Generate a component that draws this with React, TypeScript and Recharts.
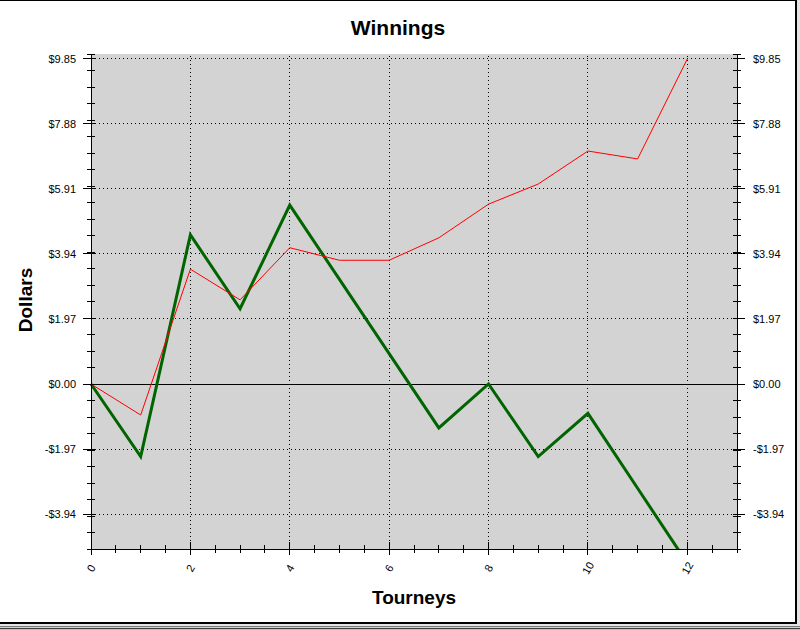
import { CartesianGrid, Line, LineChart, ReferenceLine, XAxis, YAxis } from "recharts";

const tourneys = [0, 1, 2, 3, 4, 5, 6, 7, 8, 9, 10, 11, 12];
const redWinnings = [0, -0.94, 3.48, 2.55, 4.13, 3.75, 3.75, 4.43, 5.45, 6.06, 7.06, 6.82, 9.85];
const greenWinnings = [0, -2.2, 4.52, 2.28, 5.42, 3.17, 0.92, -1.33, 0, -2.2, -0.89, -3.16, -5.43];

const yMajorTicks = [-3.94, -1.97, 0, 1.97, 3.94, 5.91, 7.88, 9.85];
const yTickLabels = ["-$3.94", "-$1.97", "$0.00", "$1.97", "$3.94", "$5.91", "$7.88", "$9.85"];
const yMinorTicks = [
  -5, -4.5, -4, -3.5, -3, -2.5, -2, -1.5, -1, -0.5, 0, 0.5, 1, 1.5, 2, 2.5, 3, 3.5, 4, 4.5, 5,
  5.5, 6, 6.5, 7, 7.5, 8, 8.5, 9, 9.5, 10
];
const xMajorTicks = [0, 2, 4, 6, 8, 10, 12];
const xTickLabels = ["0", "2", "4", "6", "8", "10", "12"];
const xMinorTicks = [
  0, 0.5, 1, 1.5, 2, 2.5, 3, 3.5, 4, 4.5, 5, 5.5, 6, 6.5, 7, 7.5, 8, 8.5, 9, 9.5, 10, 10.5, 11,
  11.5, 12, 12.5, 13
];

const yAllTicks = [...yMinorTicks, ...yMajorTicks.filter((v) => !yMinorTicks.includes(v))].sort(
  (a, b) => a - b
);

const rows = tourneys.map((t, i) => ({ t, red: redWinnings[i], green: greenWinnings[i] }));

const FONT = "'Liberation Sans', Arial, sans-serif";

function BottomTick({ x, y, payload }: any) {
  const idx = xMajorTicks.indexOf(payload.value);
  const major = idx >= 0;
  return (
    <g>
      <line
        x1={x}
        x2={x}
        y1={major ? y - 7 : y - 4}
        y2={major ? y + 6 : y + 4}
        stroke="#000"
        shapeRendering="crispEdges"
      />
      {major && (
        <text
          x={x}
          y={y + 19}
          transform={`rotate(-60 ${x} ${y + 19})`}
          textAnchor="middle"
          dominantBaseline="central"
          fontSize={11}
          fontFamily={FONT}
          fill="#000"
        >
          {xTickLabels[idx]}
        </text>
      )}
    </g>
  );
}

function TopTick({ x, y }: any) {
  return <line x1={x} x2={x} y1={y} y2={y + 5} stroke="#000" shapeRendering="crispEdges" />;
}

function LeftTick({ x, y, payload }: any) {
  const idx = yMajorTicks.indexOf(payload.value);
  const major = idx >= 0;
  return (
    <g>
      <line x1={major ? x - 8 : x - 4} x2={x + 4} y1={y} y2={y} stroke="#000" shapeRendering="crispEdges" />
      {major && (
        <text x={x - 15} y={y} dy={4} textAnchor="end" fontSize={11} fontFamily={FONT} fill="#000">
          {yTickLabels[idx]}
        </text>
      )}
    </g>
  );
}

function RightTick({ x, y, payload }: any) {
  const idx = yMajorTicks.indexOf(payload.value);
  const major = idx >= 0;
  return (
    <g>
      <line x1={x - 4} x2={major ? x + 8 : x + 4} y1={y} y2={y} stroke="#000" shapeRendering="crispEdges" />
      {major && (
        <text x={x + 16} y={y} dy={4} textAnchor="start" fontSize={11} fontFamily={FONT} fill="#000">
          {yTickLabels[idx]}
        </text>
      )}
    </g>
  );
}

export default function App() {
  return (
    <div
      style={{
        position: "absolute",
        top: 0,
        left: 0,
        width: 800,
        height: 630,
        background: "#e4e4e4",
        overflow: "hidden",
        fontFamily: FONT
      }}
    >
      <div
        style={{
          position: "absolute",
          top: 0,
          left: 0,
          width: 797,
          height: 624,
          background: "#fff",
          borderTop: "1px solid #000",
          borderRight: "2px solid #000",
          borderBottom: "2px solid #000",
          boxSizing: "border-box"
        }}
      />
      <div
        style={{
          position: "absolute",
          top: 626,
          left: 0,
          width: 800,
          height: 4,
          background: "linear-gradient(#7a7a7a 0 1px, #cfcfcf 1px 2px, #404040 2px 3px, #bdbdbd 3px 4px)"
        }}
      />
      <div
        style={{
          position: "absolute",
          top: 16,
          left: 298,
          width: 200,
          textAlign: "center",
          fontSize: 21,
          fontWeight: "bold",
          color: "#000"
        }}
      >
        Winnings
      </div>
      <div
        style={{
          position: "absolute",
          top: 300,
          left: 26,
          transform: "translate(-50%, -50%) rotate(-90deg)",
          fontSize: 19,
          fontWeight: "bold",
          color: "#000",
          whiteSpace: "nowrap"
        }}
      >
        Dollars
      </div>
      <div
        style={{
          position: "absolute",
          top: 598,
          left: 414,
          transform: "translate(-50%, -50%)",
          fontSize: 19,
          fontWeight: "bold",
          color: "#000",
          whiteSpace: "nowrap"
        }}
      >
        Tourneys
      </div>
      <div style={{ position: "absolute", top: 0, left: 0 }}>
        <LineChart width={800} height={630} data={rows} margin={{ top: 54, right: 0, bottom: 21, left: 0 }}>
          <CartesianGrid xAxisId="bottom" yAxisId="left" horizontal={false} vertical={false} fill="#d3d3d3" />
          <XAxis
            xAxisId="bottom"
            dataKey="t"
            type="number"
            domain={[0, 13]}
            ticks={xMinorTicks}
            interval={0}
            height={60}
            tickSize={0}
            tickMargin={0}
            tickLine={false}
            axisLine={{ stroke: "#000", shapeRendering: "crispEdges" }}
            tick={<BottomTick />}
          />
          <XAxis
            xAxisId="top"
            orientation="top"
            type="number"
            domain={[0, 13]}
            ticks={xMinorTicks}
            interval={0}
            height={0}
            tickSize={0}
            tickMargin={0}
            tickLine={false}
            axisLine={{ stroke: "#000", shapeRendering: "crispEdges" }}
            tick={<TopTick />}
          />
          <YAxis
            yAxisId="left"
            type="number"
            domain={[-5, 10]}
            allowDataOverflow
            ticks={yAllTicks}
            interval={0}
            width={91}
            tickSize={0}
            tickMargin={0}
            tickLine={false}
            axisLine={{ stroke: "#000", shapeRendering: "crispEdges" }}
            tick={<LeftTick />}
          />
          <YAxis
            yAxisId="right"
            orientation="right"
            type="number"
            domain={[-5, 10]}
            allowDataOverflow
            ticks={yAllTicks}
            interval={0}
            width={63}
            tickSize={0}
            tickMargin={0}
            tickLine={false}
            axisLine={{ stroke: "#000", shapeRendering: "crispEdges" }}
            tick={<RightTick />}
          />
          {xMajorTicks
            .filter((v) => v > 0)
            .map((v) => (
              <ReferenceLine
                key={`vx-${v}`}
                xAxisId="bottom"
                yAxisId="left"
                x={v}
                stroke="#000"
                strokeDasharray="1 3"
                shapeRendering="crispEdges"
              />
            ))}
          {yMajorTicks
            .filter((v) => v !== 0)
            .map((v) => (
              <ReferenceLine
                key={`hy-${v}`}
                xAxisId="bottom"
                yAxisId="left"
                y={v}
                stroke="#000"
                strokeDasharray="1 3"
                shapeRendering="crispEdges"
              />
            ))}
          <ReferenceLine xAxisId="bottom" yAxisId="left" y={0} stroke="#000" shapeRendering="crispEdges" />
          <Line
            xAxisId="bottom"
            yAxisId="left"
            dataKey="green"
            stroke="#006400"
            strokeWidth={3}
            dot={false}
            isAnimationActive={false}
          />
          <Line
            xAxisId="bottom"
            yAxisId="left"
            dataKey="red"
            stroke="#ff0000"
            strokeWidth={1}
            dot={false}
            isAnimationActive={false}
          />
        </LineChart>
      </div>
    </div>
  );
}
